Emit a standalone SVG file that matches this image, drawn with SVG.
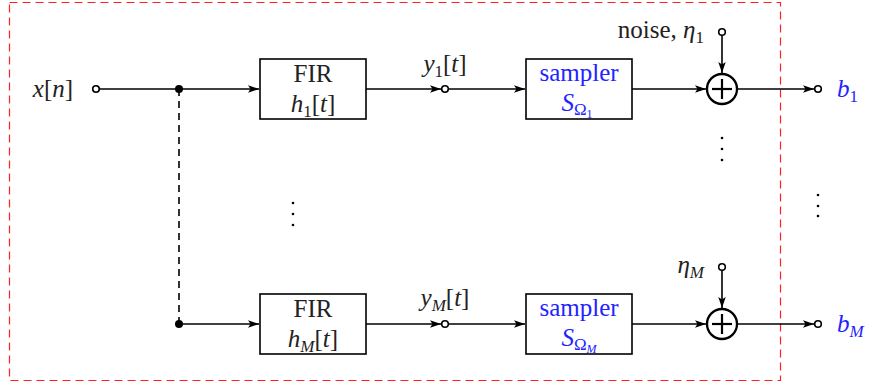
<svg xmlns="http://www.w3.org/2000/svg" width="871" height="383" viewBox="0 0 871 383">
<defs>
<marker id="ah" markerWidth="11" markerHeight="8" refX="11" refY="4" orient="auto" markerUnits="userSpaceOnUse">
<path d="M0,0.3 L11,4 L0,7.7 L2.5,4 Z" fill="#000"/>
</marker>
<style>
.ln{stroke:#000;stroke-width:1.6;fill:none}
.ar{stroke:#000;stroke-width:1.6;fill:none;marker-end:url(#ah)}
.box{stroke:#000;stroke-width:1.6;fill:#fff}
.oc{stroke:#000;stroke-width:1.6;fill:#fff}
.sum{stroke:#000;stroke-width:2.3;fill:#fff}
.plus{stroke:#000;stroke-width:2.2}
text{font-family:'Liberation Serif','DejaVu Serif',serif;font-size:25px;fill:#222}
.it{font-style:italic}
.b{fill:#2323ff}
.sub{font-size:17px}
.dot{fill:#000}
</style>
</defs>
<rect x="9.5" y="2.5" width="771" height="378" fill="none" stroke="#ff2020" stroke-width="1.2" stroke-dasharray="8,5"/>
<g id="connectors">
<line class="ln" x1="99" y1="89" x2="179" y2="89"/>
<line class="ar" x1="179" y1="89" x2="259" y2="89"/>
<line class="ar" x1="366" y1="89" x2="441" y2="89"/>
<line class="ar" x1="449" y1="89" x2="525" y2="89"/>
<line class="ar" x1="632" y1="89" x2="706" y2="89"/>
<line class="ar" x1="722" y1="35" x2="722" y2="73"/>
<line class="ar" x1="738" y1="89" x2="814" y2="89"/>
<line class="ln" x1="179" y1="89" x2="179" y2="324" stroke-dasharray="7,5" stroke-width="1"/>
<line class="ar" x1="179" y1="324" x2="259" y2="324"/>
<line class="ar" x1="366" y1="324" x2="441" y2="324"/>
<line class="ar" x1="449" y1="324" x2="525" y2="324"/>
<line class="ar" x1="632" y1="324" x2="706" y2="324"/>
<line class="ar" x1="722" y1="270" x2="722" y2="308"/>
<line class="ar" x1="738" y1="324" x2="814" y2="324"/>
</g>
<g id="input">
<text class="it" x="53" y="97" text-anchor="middle">x<tspan font-style="normal">[</tspan>n<tspan font-style="normal">]</tspan></text>
<circle class="oc" cx="96" cy="89" r="3.3"/>
<circle class="dot" cx="179" cy="89" r="4"/>
<circle class="dot" cx="179" cy="324" r="4"/>
</g>
<g id="fir1">
<rect class="box" x="260" y="59" width="106" height="60"/>
<text x="313" y="82" text-anchor="middle" font-size="23">FIR</text>
<text class="it" x="313" y="112" text-anchor="middle">h<tspan class="sub" font-style="normal" dy="5">1</tspan><tspan font-style="normal" dy="-5">[</tspan>t<tspan font-style="normal">]</tspan></text>
</g>
<g id="firM">
<rect class="box" x="260" y="294" width="106" height="60"/>
<text x="313" y="317" text-anchor="middle" font-size="23">FIR</text>
<text class="it" x="313" y="347" text-anchor="middle">h<tspan class="sub" dy="5">M</tspan><tspan font-style="normal" dy="-5">[</tspan>t<tspan font-style="normal">]</tspan></text>
</g>
<g id="y1">
<circle class="oc" cx="445" cy="89" r="3.3"/>
<text class="it" x="445" y="72" text-anchor="middle">y<tspan class="sub" font-style="normal" dy="5">1</tspan><tspan font-style="normal" dy="-5">[</tspan>t<tspan font-style="normal">]</tspan></text>
</g>
<g id="yM">
<circle class="oc" cx="445" cy="324" r="3.3"/>
<text class="it" x="445" y="306" text-anchor="middle">y<tspan class="sub" dy="5">M</tspan><tspan font-style="normal" dy="-5">[</tspan>t<tspan font-style="normal">]</tspan></text>
</g>
<g id="sampler1">
<rect class="box" x="526" y="59" width="106" height="60"/>
<text class="b" x="579" y="81" text-anchor="middle" font-size="24">sampler</text>
<text class="b it" x="577" y="111" text-anchor="middle">S<tspan class="sub" font-style="normal" dy="4">Ω</tspan><tspan font-size="12" font-style="normal" dy="3">1</tspan></text>
</g>
<g id="samplerM">
<rect class="box" x="526" y="294" width="106" height="60"/>
<text class="b" x="579" y="316" text-anchor="middle" font-size="24">sampler</text>
<text class="b it" x="579" y="346" text-anchor="middle">S<tspan class="sub" font-style="normal" dy="4">Ω</tspan><tspan font-size="12" dy="3">M</tspan></text>
</g>
<g id="sum1">
<circle class="sum" cx="722" cy="89" r="15"/>
<line class="plus" x1="712" y1="89" x2="732" y2="89"/>
<line class="plus" x1="722" y1="79" x2="722" y2="99"/>
<circle class="oc" cx="722" cy="32" r="3.3"/>
<text x="704" y="38" text-anchor="end">noise, <tspan font-style="italic">η</tspan><tspan class="sub" dy="5">1</tspan></text>
</g>
<g id="sumM">
<circle class="sum" cx="722" cy="324" r="15"/>
<line class="plus" x1="712" y1="324" x2="732" y2="324"/>
<line class="plus" x1="722" y1="314" x2="722" y2="334"/>
<circle class="oc" cx="722" cy="267" r="3.3"/>
<text class="it" x="704" y="273" text-anchor="end">η<tspan class="sub" dy="5">M</tspan></text>
</g>
<g id="out1">
<circle class="oc" cx="818" cy="89" r="3.3"/>
<text class="b it" x="837" y="97">b<tspan class="sub" font-style="normal" dy="5">1</tspan></text>
</g>
<g id="outM">
<circle class="oc" cx="818" cy="324" r="3.3"/>
<text class="b it" x="837" y="332">b<tspan class="sub" dy="5">M</tspan></text>
</g>
<g id="vdots">
<circle class="dot" cx="722" cy="138" r="1.3"/><circle class="dot" cx="722" cy="149" r="1.3"/><circle class="dot" cx="722" cy="160" r="1.3"/>
<circle class="dot" cx="293" cy="203" r="1.3"/><circle class="dot" cx="293" cy="214" r="1.3"/><circle class="dot" cx="293" cy="225" r="1.3"/>
<circle class="dot" cx="818" cy="195" r="1.3"/><circle class="dot" cx="818" cy="206" r="1.3"/><circle class="dot" cx="818" cy="216" r="1.3"/>
</g>
</svg>
